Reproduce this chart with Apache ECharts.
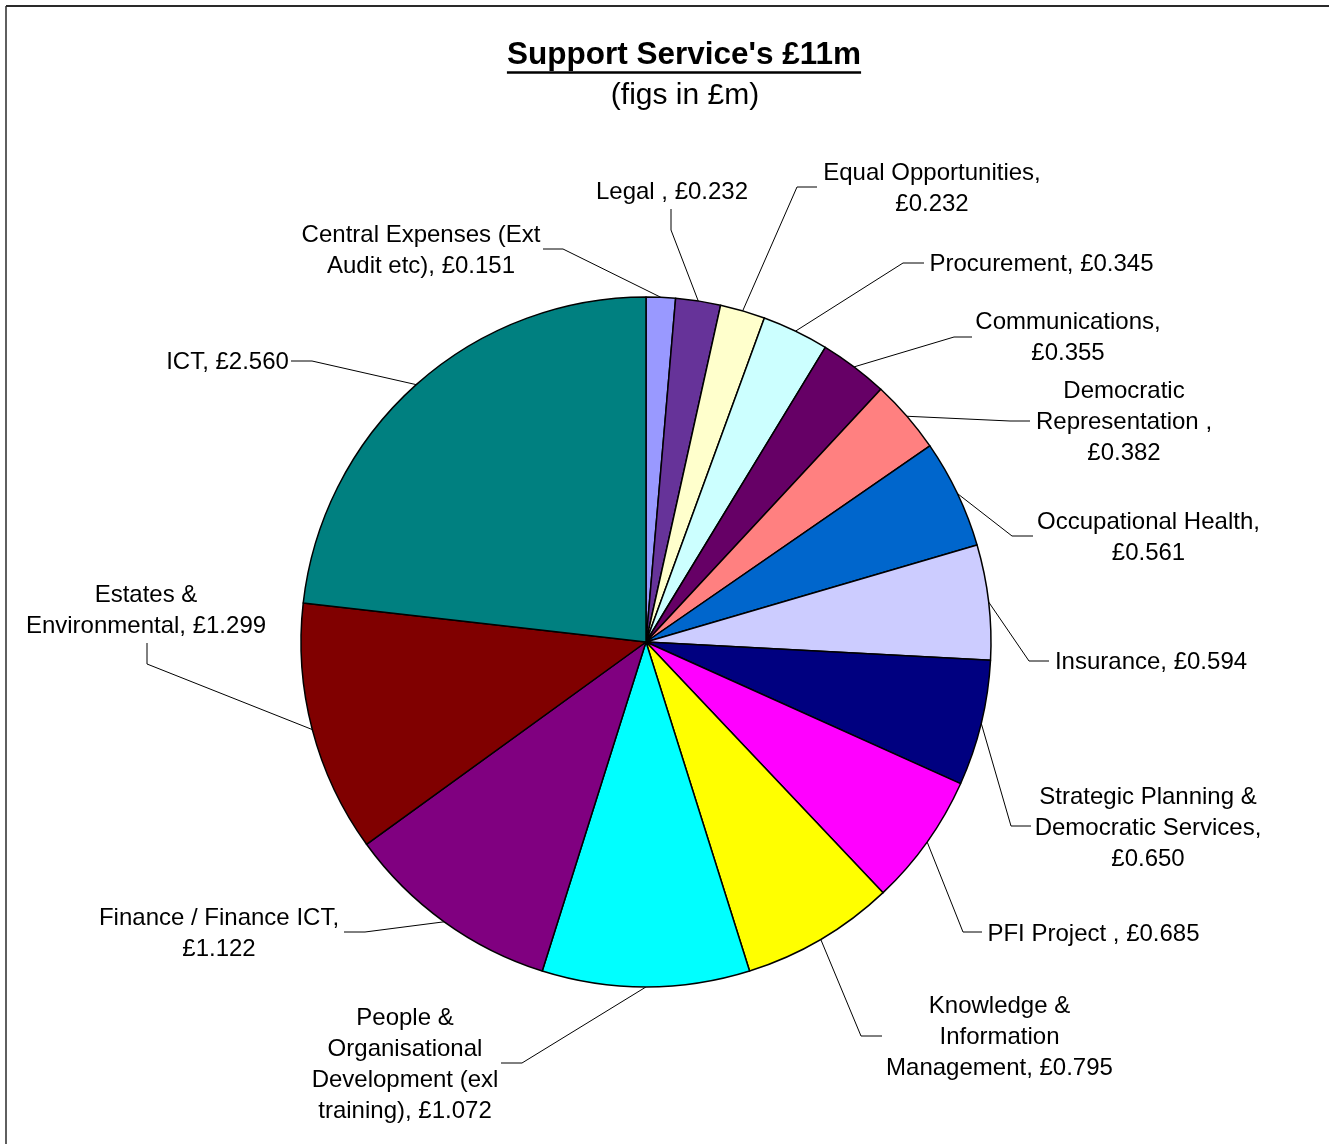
<!DOCTYPE html>
<html>
<head>
<meta charset="utf-8">
<title>Support Service's £11m</title>
<script src="https://cdn.jsdelivr.net/npm/echarts@6/dist/echarts.min.js"></script>
<style>
  html, body { margin: 0; padding: 0; background: #ffffff; }
  #chart { width: 1329px; height: 1144px; }
</style>
</head>
<body>
<div id="chart"></div>
<script>
// Support service budget split, £m
const categories = [
  'Central Expenses (Ext Audit etc)',
  'Legal ',
  'Equal Opportunities',
  'Procurement',
  'Communications',
  'Democratic Representation ',
  'Occupational Health',
  'Insurance',
  'Strategic Planning & Democratic Services',
  'PFI Project ',
  'Knowledge & Information Management',
  'People & Organisational Development (exl training)',
  'Finance / Finance ICT',
  'Estates & Environmental',
  'ICT'
];

const values = [0.151, 0.232, 0.232, 0.345, 0.355, 0.382, 0.561, 0.594, 0.650, 0.685, 0.795, 1.072, 1.122, 1.299, 2.560];

// Wrapped label text; {v} is replaced by the slice value
const labelTemplates = [
  'Central Expenses (Ext\nAudit etc), {v}',
  'Legal , {v}',
  'Equal Opportunities,\n{v}',
  'Procurement, {v}',
  'Communications,\n{v}',
  'Democratic\nRepresentation ,\n{v}',
  'Occupational Health,\n{v}',
  'Insurance, {v}',
  'Strategic Planning &\nDemocratic Services,\n{v}',
  'PFI Project , {v}',
  'Knowledge &\nInformation\nManagement, {v}',
  'People &\nOrganisational\nDevelopment (exl\ntraining), {v}',
  'Finance / Finance ICT,\n{v}',
  'Estates &\nEnvironmental, {v}',
  'ICT, {v}'
];

const sliceColors = [
  '#9999FF', '#663399', '#FFFFCC', '#CCFFFF', '#660066',
  '#FF8080', '#0066CC', '#CCCCFF', '#000080', '#FF00FF',
  '#FFFF00', '#00FFFF', '#800080', '#800000', '#008080'
];

// Label placement per slice: [textX, textY, elbowX, elbowY, lineEndX, lineEndY]
const labelPlacement = [
  [421, 250.5, 563, 249, 543, 249],
  [672, 192, 671, 230, 671, 209],
  [932, 188.5, 797, 187, 817, 187],
  [1041.5, 264, 903, 263, 924, 263],
  [1068, 337.5, 954, 337, 972, 337],
  [1124, 422, 1010, 421, 1030, 421],
  [1148.5, 537.5, 1012, 536, 1033, 536],
  [1151, 662, 1029, 661, 1049, 661],
  [1148, 828, 1011, 826, 1031, 826],
  [1093.5, 934, 963, 932, 982, 932],
  [999.5, 1037, 861, 1036, 882, 1036],
  [405, 1064.5, 522, 1063, 501, 1063],
  [219, 933.5, 365, 932, 344, 932],
  [146, 610.5, 147, 664, 147, 643],
  [227.5, 362, 312, 361, 291, 361]
];

const PIE_CENTER = [646, 642];
const PIE_RADIUS = 345;
const FONT = '"Liberation Sans", Arial, Helvetica, sans-serif';

const titleText = "Support Service's £11m";
const subtitleText = '(figs in £m)';
const TITLE_SIZE = 31.5;

// width of the bold title, used for its underline
function measureText(text, font) {
  const ctx = document.createElement('canvas').getContext('2d');
  ctx.font = font;
  return ctx.measureText(text).width;
}
const titleWidth = measureText(titleText, 'bold ' + TITLE_SIZE + 'px "Liberation Sans", Arial, sans-serif');

// outer-edge point at a slice's mid angle (fallback if the library gives none)
const total = values.reduce((a, b) => a + b, 0);
function edgePoint(i) {
  let before = 0;
  for (let k = 0; k < i; k++) before += values[k];
  const mid = (before + values[i] / 2) / total * 2 * Math.PI;
  return [PIE_CENTER[0] + PIE_RADIUS * Math.sin(mid), PIE_CENTER[1] - PIE_RADIUS * Math.cos(mid)];
}

const chart = echarts.init(document.getElementById('chart'), null, { renderer: 'canvas' });

chart.setOption({
  backgroundColor: '#ffffff',
  animation: false,
  color: sliceColors,
  graphic: [
    // chart frame
    { type: 'line', shape: { x1: 6, y1: 6, x2: 1329, y2: 6 }, style: { stroke: '#2a2a2a', lineWidth: 2 } },
    { type: 'line', shape: { x1: 6, y1: 6, x2: 6, y2: 1144 }, style: { stroke: '#2a2a2a', lineWidth: 1.5 } },
    // title and subtitle
    {
      type: 'text', x: 684, y: 55,
      style: { text: titleText, font: 'bold ' + TITLE_SIZE + 'px ' + FONT, fill: '#000', align: 'center', verticalAlign: 'middle' }
    },
    {
      type: 'line',
      shape: { x1: 684 - titleWidth / 2, y1: 72.5, x2: 684 + titleWidth / 2, y2: 72.5 },
      style: { stroke: '#000', lineWidth: 2.5 }
    },
    {
      type: 'text', x: 685, y: 96,
      style: { text: subtitleText, font: '30px ' + FONT, fill: '#000', align: 'center', verticalAlign: 'middle' }
    }
  ],
  series: [{
    type: 'pie',
    center: PIE_CENTER,
    radius: PIE_RADIUS,
    startAngle: 90,
    clockwise: true,
    avoidLabelOverlap: false,
    silent: true,
    itemStyle: { borderColor: '#000', borderWidth: 1.5 },
    emphasis: { disabled: true },
    label: {
      show: true,
      position: 'outside',
      color: '#000',
      fontFamily: FONT,
      fontSize: 24,
      lineHeight: 31,
      align: 'center',
      formatter: p => labelTemplates[p.dataIndex].replace('{v}', '£' + p.value.toFixed(3))
    },
    labelLine: {
      show: true,
      length: 10,
      length2: 10,
      smooth: false,
      lineStyle: { color: '#000', width: 1 }
    },
    labelLayout: params => {
      const pl = labelPlacement[params.dataIndex];
      const start = (params.labelLinePoints && params.labelLinePoints[0]) || edgePoint(params.dataIndex);
      return {
        x: pl[0],
        y: pl[1],
        align: 'center',
        verticalAlign: 'middle',
        labelLinePoints: [start, [pl[2], pl[3]], [pl[4], pl[5]]]
      };
    },
    data: categories.map((name, i) => ({ name: name, value: values[i] }))
  }]
});
</script>
</body>
</html>
